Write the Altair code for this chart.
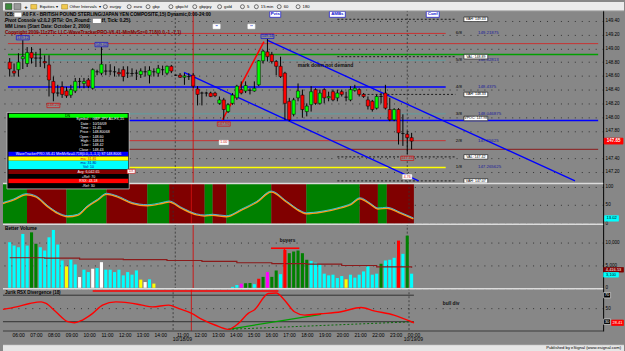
import altair as alt
import pandas as pd

FONT = "Liberation Sans"
BG = "#878787"

# ---------------- 15-minute GBP/JPY bars ----------------
opens = [148.80,148.67,148.69,148.85,148.78,148.94,148.86,148.86,148.81,148.76,
         148.52,148.35,148.44,148.38,148.32,148.38,148.52,148.49,148.54,148.42,
         148.66,148.64,148.67,148.67,148.66,148.65,148.69,148.64,148.635,148.64,
         148.62,148.66,148.61,148.66,148.64,148.69,148.64,148.74,148.61,148.61,
         148.58,148.59,148.61,148.41,148.35,148.35,148.35,148.35,148.20,148.25,
         148.08,148.20,148.28,148.40,148.38,148.39,148.38,148.47,148.82,148.95,
         148.91,148.81,148.74,148.64,148.23,148.04,148.28,148.32,148.08,148.18,
         148.40,148.20,148.40,148.28,148.37,148.28,148.37,148.29,148.25,148.39,
         148.40,148.33,148.25,148.23,148.13,148.30,148.35,148.11,147.96,148.11,
         147.76,147.75,147.70]
highs = [148.86,148.78,148.93,149.12,149.02,149.02,148.95,149.00,148.90,148.90,
         148.59,148.47,148.52,148.44,148.47,148.57,148.57,148.57,148.57,148.71,
         148.69,149.02,148.77,148.77,148.74,148.71,148.74,148.74,148.71,148.69,
         148.71,148.74,148.74,148.71,148.76,148.75,148.75,148.76,148.62,148.64,
         148.64,148.64,148.64,148.45,148.37,148.37,148.37,148.37,148.30,148.28,
         148.20,148.35,148.47,148.52,148.52,148.42,148.52,148.83,148.98,149.14,
         148.95,148.83,148.88,148.66,148.28,148.28,148.49,148.40,148.20,148.45,
         148.42,148.40,148.42,148.37,148.40,148.40,148.40,148.37,148.45,148.47,
         148.42,148.35,148.30,148.25,148.33,148.35,148.47,148.28,148.13,148.13,
         148.04,147.80,147.77]
lows = [148.59,148.59,148.59,148.70,148.73,148.78,148.73,148.73,148.71,148.30,
        148.23,148.30,148.28,148.28,148.28,148.35,148.42,148.42,148.42,148.40,
        148.61,148.61,148.61,148.61,148.59,148.59,148.52,148.57,148.59,148.54,
        148.57,148.59,148.49,148.59,148.59,148.61,148.61,148.64,148.60,148.57,
        148.47,148.54,148.42,148.17,148.17,148.30,148.29,148.29,148.18,147.96,
        148.06,148.18,148.25,148.33,148.35,148.33,148.37,148.45,148.78,148.81,
        148.78,148.61,148.57,147.96,147.94,148.01,148.23,147.99,148.01,148.08,
        148.18,148.18,148.20,148.23,148.23,148.23,148.30,148.23,148.23,148.37,
        148.30,148.28,148.11,148.08,148.11,148.20,148.11,147.94,147.94,147.60,
        147.58,147.46,147.53]
closes = [148.70,148.64,148.80,148.88,148.94,148.86,148.86,148.86,148.79,148.54,
          148.35,148.35,148.33,148.31,148.40,148.52,148.52,148.52,148.45,148.69,
          148.66,148.77,148.67,148.67,148.66,148.63,148.59,148.64,148.635,148.64,
          148.67,148.66,148.68,148.66,148.71,148.69,148.74,148.67,148.61,148.58,
          148.60,148.59,148.45,148.33,148.35,148.35,148.30,148.31,148.25,148.11,
          148.18,148.32,148.45,148.35,148.46,148.39,148.42,148.82,148.96,148.88,
          148.81,148.74,148.59,148.20,147.96,148.25,148.38,148.11,148.16,148.37,
          148.20,148.35,148.28,148.30,148.25,148.35,148.33,148.29,148.40,148.42,
          148.33,148.30,148.16,148.11,148.30,148.30,148.13,147.96,148.11,147.77,
          147.76,147.70,147.65]

# ---------------- Better Volume ----------------
volume = [10000,9280,8910,11830,9280,12180,9650,8910,8190,11090,
          12710,9500,6000,4690,6160,5130,2360,3970,3450,4190,
          4320,5630,3970,3970,3450,3970,2730,3450,2880,3820,
          1790,1260,1860,920] + [None] * 17 + [
          200,600,900,1000,1050,800,2000,2400,3450,2400,
          3800,3000,8300,7600,7970,8190,7600,6160,5900,5500,
          5130,3100,2730,2880,2140,2580,1860,2880,2230,2880,
          3600,4690,2880,3100,5280,6000,6160,6590,10370,7460,
          11460,3100]
volume_kind = ("cccccggccc" "cccyccwccw" "cwcccccccc" "ywcy" "-----------------"
               "ccmggcrgmg" "gcrgggggcc" "ccccccyccc" "ccccgcccrc" "gc")
vol_avg_idx = [0, 8, 16, 26, 36, 44, 52, 60, 68, 76, 84, 92]
vol_avg = [6600, 6500, 6300, 6200, 6000, 5800, 5500, 5300, 5200, 4900, 4600, 4400]

# ---------------- oscillator ----------------
osc_idx = [-0.4, 1.9, 4.8, 7.0, 9.7, 11.9, 14.2, 16.4, 18.6, 20.9,
           22.9, 25.3, 28.7, 32.1, 35.4, 37.0, 39.9, 43.2, 45.0, 46.8,
           49.9, 53.3, 56.7, 60.0, 63.4, 66.7, 67.9, 71.2, 75.7, 77.9,
           79.9, 82.4, 84.0, 86.0, 89.1, 92.0]
osc_val = [55, 64, 79, 73, 46, 28, 19, 23, 46, 64,
           80, 73, 55, 49, 55, 59, 41, 24, 21, 23,
           19, 37, 58, 86, 59, 32, 27, 31, 43, 52,
           68, 52, 40, 42, 28, 13]
osc_band_edges = [-0.4, 5.0, 13.9, 22.9, 32.1, 37.0, 45.0, 46.8, 49.9, 60.0, 67.9, 79.9, 84.0, 86.0, 92.1]

# ---------------- Jurik RSX ----------------
rsx_idx = [-0.4, 2.6, 5.6, 8.2, 9.3, 11.5, 14.2, 15.7, 17.5, 19.8,
           22.0, 25.0, 28.0, 30.9, 33.2, 36.9, 39.1, 42.1, 44.4, 47.3,
           50.3, 52.6, 54.8, 56.3, 59.3, 61.1, 63.0, 65.2, 67.5, 71.2,
           75.7, 80.2, 83.1, 87.6, 92.1]
rsx_val = [48.5, 52.4, 57.5, 60, 57.5, 45, 30, 28.4, 32.5, 42.5,
           55, 60, 58.4, 55, 52.4, 55, 50, 42.5, 33.5, 25,
           18.5, 27.5, 42.5, 48.5, 72.5, 73.4, 62.5, 45, 40, 42,
           45, 51.5, 46.4, 40, 28.4]

# ---------------- axes / annotations ----------------
price_ticks = [147.2, 147.4, 147.8, 148.0, 148.2, 148.4, 148.6, 148.8, 149.0, 149.2, 149.4]
hour_ticks = [3, 7, 11, 15, 19, 23, 27, 31, 35, 40, 44, 48, 52, 56, 60, 64, 68, 72, 76, 80, 84, 88, 92]
hour_labels = ["06:00", "07:00", "08:00", "09:00", "10:00", "11:00", "12:00", "13:00", "14:00",
               "11:00", "12:00", "13:00", "14:00", "15:00", "16:00", "17:00", "18:00", "19:00",
               "20:00", "21:00", "22:00", "23:00", "00:00"]
date_idx = [40, 92]
date_labels = ["10/18/09", "10/19/09"]
break_idx = [37.9, 91.0]
cursor_idx = 42.0

mm_names = ["6/8", "5/8", "4/8", "3/8", "2/8", "1/8"]
mm_levels = [149.21875, 148.828125, 148.4375, 148.046875, 147.65625, 147.265625]
mm_text = ["149.21875", "148.82813", "148.4375", "148.046875", "147.65625", "147.265625"]
full_levels = [149.07, 148.91, 147.95, 147.53]
va_levels = [149.425, 148.88, 148.33, 147.98, 147.42, 147.07]
va_text = ["VAH: 149.43", "VAL: 148.89", "VAH: 148.33", "VPOC: 147.98", "VAL: 147.42", "VAH: 147.07"]
va_dot_start = [75, 75, 81, 75, 75, 75]
pivot_hi_idx = [3, 21, 59]
pivot_hi = [149.12, 149.02, 149.14]
pivot_lo_idx = [10, 49, 91]
pivot_lo = [148.23, 147.96, 147.46]
chan_upper = [(58.9, 149.12), (129.4, 147.07)]
chan_lower = [(39.9, 148.65), (93.6, 147.07)]
ab_leg = [(48.7, 147.96), (58.2, 149.10)]

# ---------------- geometry ----------------
N = len(opens)
W = 604
PXB = 4.4707
X0 = -0.4
XEND = X0 + W / PXB
XS = alt.Scale(domain=[X0, XEND], nice=False, zero=False)
H_MAIN, H_OSC, H_VOL, H_RSX = 182, 41, 65, 43
YS_MAIN = alt.Scale(domain=[147.04, 149.675], nice=False, zero=False)
YS_OSC = alt.Scale(domain=[-1.35, 109.46], nice=False, zero=False)
YS_VOL = alt.Scale(domain=[-109, 14083], nice=False, zero=False)
YS_RSX = alt.Scale(domain=[15.97, 80.43], nice=False, zero=False)
ONE = pd.DataFrame({"k": [0]})
FS = 4.6


def yaxis(values, fmt=None):
    kw = dict(orient="right", values=values, ticks=False, domain=True, domainColor="black",
              domainWidth=1, grid=True, gridColor="#1e1e1e", gridDash=[1, 6], gridWidth=0.8,
              labelFontSize=FS, labelColor="black", labelFont=FONT, labelPadding=2,
              title=None, labelOverlap=False, labelFlush=False)
    if fmt:
        kw["format"] = fmt
    return alt.Axis(**kw)


lab = [""] * (N + 1)
for t, s in zip(hour_ticks, hour_labels):
    lab[t] = s
XEXPR = "[" + ",".join("'" + s + "'" for s in lab) + "][round(datum.value)]"
XAXIS = alt.Axis(values=hour_ticks, labelExpr=XEXPR, orient="bottom", ticks=False, domain=False,
                 grid=False, labelAlign="center", labelBaseline="top", labelPadding=1.5, labelFontSize=5,
                 labelColor="black", labelFont=FONT, labelOverlap=False, labelFlush=False, title=None)

# the same axis object is used by every layer of a panel so the layer merge keeps it
YAX = {"main": yaxis(price_ticks, ".2f"), "osc": yaxis([0, 50, 100]),
       "vol": yaxis([0, 5000, 10000], ",d"), "rsx": yaxis([50])}
YSC = {"main": YS_MAIN, "osc": YS_OSC, "vol": YS_VOL, "rsx": YS_RSX}
XAX = {"main": None, "osc": None, "vol": None, "rsx": XAXIS}


def xq(pn, f="i"):
    return alt.X(f"{f}:Q", scale=XS, axis=XAX[pn])


def yq(pn, f):
    return alt.Y(f"{f}:Q", scale=YSC[pn], axis=YAX[pn])


def ptext(x, y, s, size=FS, color="black", bold=False, align="left", baseline="middle"):
    return alt.Chart(ONE).mark_text(text=s, fontSize=size, color=color, font=FONT,
                                    fontWeight="bold" if bold else "normal",
                                    align=align, baseline=baseline).encode(
        x=alt.value(x), y=alt.value(y))


def prect(x, y, x2, y2, fill, stroke=None, sw=0.8):
    kw = dict(fill=fill)
    if stroke:
        kw.update(stroke=stroke, strokeWidth=sw)
    return alt.Chart(ONE).mark_rect(**kw).encode(
        x=alt.value(x), y=alt.value(y), x2=alt.value(x2), y2=alt.value(y2))


def prule(x, y, x2, y2, color, w=1, dash=None):
    kw = dict(color=color, strokeWidth=w)
    if dash:
        kw["strokeDash"] = dash
    return alt.Chart(ONE).mark_rule(**kw).encode(
        x=alt.value(x), y=alt.value(y), x2=alt.value(x2), y2=alt.value(y2))


def boxes(df, x, y, w, h, fill, stroke, tcol, fs=4.2, bold=False, yoff=0):
    a = h / w
    shp = f"M-1,{-a:.4f}L1,{-a:.4f}L1,{a:.4f}L-1,{a:.4f}Z"
    b = alt.Chart(df).mark_point(shape=shp, size=w * w, filled=True, fill=fill,
                                 stroke=stroke or fill, strokeWidth=0.7, opacity=1,
                                 yOffset=yoff).encode(x=x, y=y)
    t = alt.Chart(df).mark_text(fontSize=fs, color=tcol, font=FONT,
                                fontWeight="bold" if bold else "normal",
                                yOffset=yoff).encode(x=x, y=y, text="t:N")
    return [b, t]


def vlines(pn, h):
    out = []
    bdf = pd.DataFrame({"i": break_idx})
    out.append(alt.Chart(bdf).mark_rule(color="#333333", strokeWidth=0.8, strokeDash=[2, 2]).encode(
        x=xq(pn), y=alt.value(0), y2=alt.value(h)))
    cdf_ = pd.DataFrame({"i": [cursor_idx]})
    out.append(alt.Chart(cdf_).mark_rule(color="#d01010", strokeWidth=0.9).encode(
        x=xq(pn), y=alt.value(0), y2=alt.value(h)))
    return out


def hseg(pn, p, a, b, color, w=1, dash=None):
    df = pd.DataFrame({"p": [p], "a": [a], "b": [b]})
    kw = dict(color=color, strokeWidth=w)
    if dash:
        kw["strokeDash"] = dash
    return alt.Chart(df).mark_rule(**kw).encode(x=xq(pn, "a"), x2="b:Q", y=yq(pn, "p"))


def seg(pn, pts, color, w=1.4, dash=None):
    df = pd.DataFrame({"a": [pts[0][0]], "p": [pts[0][1]], "b": [pts[1][0]], "q": [pts[1][1]]})
    kw = dict(color=color, strokeWidth=w)
    if dash:
        kw["strokeDash"] = dash
    return alt.Chart(df).mark_rule(**kw).encode(x=xq(pn, "a"), x2="b:Q", y=yq(pn, "p"), y2="q:Q")


MM_END = 99.8

# ================= main price panel =================
P = "main"
L = []
mm_colors = ["#c83232", "#5f9ea0", "#0000ff", "#5f9ea0", "#c83232", "#ffff00"]
mm_w = [1, 1, 1.6, 1, 1, 1.6]
for lv, c, w in zip(mm_levels, mm_colors, mm_w):
    L.append(hseg(P, lv, X0, MM_END, c, w))
for lv, c, w in zip(full_levels, ["#c83232", "#00a000", "#0000ff", "#8b1a1a"], [1, 1.5, 1.6, 1]):
    L.append(hseg(P, lv, X0, XEND, c, w))
for lv, s0 in zip(va_levels, va_dot_start):
    if lv == 147.98:
        continue
    L.append(hseg(P, lv, s0, 102.0, "#111111", 0.9, [2, 2]))
L += vlines(P, H_MAIN)
L.append(seg(P, chan_upper, "#0000ff", 1.3))
L.append(seg(P, chan_lower, "#0000ff", 1.3))
L.append(seg(P, ab_leg, "#ff0000", 1.6))

cdf = pd.DataFrame({"i": range(N), "o": opens, "h": highs, "l": lows, "c": closes})
cdf["lo"] = cdf[["o", "c"]].min(axis=1)
cdf["hi"] = cdf[["o", "c"]].max(axis=1)
cdf["fill"] = ["#00ff00" if c - o > 0.012 else ("#ff0000" if o - c > 0.012 else "#000000")
               for o, c in zip(opens, closes)]
L.append(alt.Chart(cdf).mark_rule(color="black", strokeWidth=1).encode(
    x=xq(P), y=yq(P, "l"), y2="h:Q"))
L.append(alt.Chart(cdf).mark_bar(width=3.3, stroke="black", strokeWidth=0.5).encode(
    x=xq(P), y=yq(P, "lo"), y2="hi:Q", fill=alt.Fill("fill:N", scale=None)))

mmdf = pd.DataFrame({"i": [102.1] * 6, "p": mm_levels, "n": mm_names, "t": mm_text, "j": [107.2] * 6})
L.append(alt.Chart(mmdf).mark_text(fontSize=4.4, color="black", font=FONT, align="left").encode(
    x=xq(P), y=yq(P, "p"), text="n:N"))
L.append(alt.Chart(mmdf).mark_text(fontSize=4.4, color="#1c1c9c", font=FONT, align="left").encode(
    x=xq(P, "j"), y=yq(P, "p"), text="t:N"))
vadf = pd.DataFrame({"i": [106.7] * 6, "p": va_levels, "t": va_text})
L += boxes(vadf, xq(P), yq(P, "p"), 24, 4.6, "#ffffff", "#222222", "#000000", 3.6)
phdf = pd.DataFrame({"i": pivot_hi_idx, "p": pivot_hi, "t": [f"{v:.2f}" for v in pivot_hi]})
L += boxes(phdf, xq(P), yq(P, "p"), 13, 4.4, "#8a8a8a", "#1010d0", "#1010d0", 3.8, yoff=-2.5)
pldf = pd.DataFrame({"i": pivot_lo_idx, "p": pivot_lo, "t": [f"{v:.2f}" for v in pivot_lo]})
L += boxes(pldf, xq(P), yq(P, "p"), 13, 4.4, "#8a8a8a", "#d01010", "#d01010", 3.8, yoff=4.2)
wdf = pd.DataFrame({"i": [49, 91], "p": [147.63, 147.13], "t": ["1.00", "4.76"]})
L += boxes(wdf, xq(P), yq(P, "p"), 9, 4.2, "#ffffff", "#ffffff", "#d01010", 3.6)
L.append(alt.Chart(pd.DataFrame({"i": [72.3], "p": [148.76]})).mark_text(
    text="mark down not demand", fontSize=5, font=FONT, fontWeight="bold", color="#111111").encode(
    x=xq(P), y=yq(P, "p")))
L += boxes(pd.DataFrame({"p": [147.65], "t": ["147.65"]}), alt.value(614.5), yq(P, "p"),
           19, 6, "#ff0000", "#ff0000", "#ffffff", 4.5, bold=True)
# header lines
L.append(ptext(2, 12.8, "ICB:", 4.7, bold=True))
L.append(prect(11.5, 10.6, 18.5, 14.8, "#ffffff"))
L.append(ptext(19.5, 12.8, "A0 FX - BRITISH POUND STERLING/JAPAN YEN COMPOSITE,15) Dynamic,0:00-24:00", 4.7, bold=True))
L.append(ptext(2, 19, "Pivot Console v2.0.2 (RTH: On, Round:", 4.7, bold=True))
L.append(prect(90.5, 16.8, 98.5, 21, "#ffffff"))
L.append(ptext(99.5, 19, "ff, Tick: 0.25)", 4.7, bold=True))
L.append(ptext(2, 25.2, "MM Lines (Start Date: October 2, 2009)", 4.7, bold=True))
L.append(ptext(2, 30.8, "Copyright 2009-11z2Tic LLC-WaveTrackerPRO-V6.41-MinMvSz=0.718(0.0,-1,-1,1)", 4.7,
               color="#7a0000", bold=True))
for xc, s, w in [(274, "Pvts", 11), (336.5, "AMBs", 16), (432.5, "Conf", 13)]:
    L += boxes(pd.DataFrame({"t": [s]}), alt.value(xc), alt.value(12.3), w, 6, "#ffffff", "#1010d0",
               "#1010d0", 4.4, bold=True)
for xc in (215, 250):
    L += boxes(pd.DataFrame({"t": ["▪▪"]}), alt.value(xc), alt.value(24.5), 7, 4.5, "#ffffff", "#ffffff",
               "#1010d0", 3.5)
# toolbar
L.append(prect(0, 0, 625, 8.6, "#ebebeb"))
L.append(prule(0, 8.8, 625, 8.8, "#a8a8a8", 0.8))
L.append(prect(2.5, 1.5, 9, 7.4, "#3d8a3d", "#202020", 0.5))
L.append(prect(11, 1.5, 18, 7.4, "#9a9a9a", "#404040", 0.5))
L.append(ptext(21.5, 4.6, "+", 6, bold=True))
for fx in (28, 59):
    L.append(prect(fx, 2.4, fx + 6, 7, "#f2c94c", "#9a7a1a", 0.5))
L.append(ptext(37, 4.6, "Equities", 4.2))
L.append(ptext(53.5, 4.6, "▾", 4.2))
L.append(ptext(67, 4.6, "Other Intervals", 4.2))
L.append(ptext(96.5, 4.6, "▾", 4.2))
for cx, s in [(103, "eurjpy"), (127, "euro"), (146, "gbp"), (169, "gbpchf"), (193, "gbpjpy"),
              (218, "gold"), (241, "5"), (255, "15 min"), (278, "60"), (297, "180")]:
    L.append(alt.Chart(ONE).mark_point(shape="circle", filled=False, size=16, color="#202020",
                                       strokeWidth=0.6, opacity=1).encode(x=alt.value(cx), y=alt.value(4.6)))
    L.append(ptext(cx + 4.5, 4.6, s, 4.2))

main = alt.layer(*L).properties(width=W, height=H_MAIN)

# ================= oscillator panel =================
P = "osc"
O = []
bdf = pd.DataFrame({"a": osc_band_edges[:-1], "b": osc_band_edges[1:],
                    "f": ["#008000" if k % 2 == 0 else "#800000" for k in range(len(osc_band_edges) - 1)]})
O.append(alt.Chart(bdf).mark_rect().encode(x=xq(P, "a"), x2="b:Q", y=alt.value(0), y2=alt.value(H_OSC),
                                           fill=alt.Fill("f:N", scale=None)))
O += vlines(P, H_OSC)
odf = pd.DataFrame({"i": osc_idx, "v": osc_val})
O.append(alt.Chart(odf).mark_line(interpolate="monotone", color="#ff9a1a", strokeWidth=1.5, yOffset=0.5).encode(
    x=xq(P), y=yq(P, "v")))
O.append(alt.Chart(odf).mark_line(interpolate="monotone", color="#40d0ff", strokeWidth=0.8, yOffset=-0.5).encode(
    x=xq(P), y=yq(P, "v")))
O += boxes(pd.DataFrame({"v": [13], "t": ["13.02"]}), alt.value(612.5), yq(P, "v"), 14, 5.5,
           "#00ffff", "#00ffff", "#000000", 4.2)
O.append(prule(0, 0.5, W, 0.5, "#dcdcdc", 1.6))
T = -182
O.append(prect(4, 111 + T, 127, 188 + T, "#000000", "#c8c8c8", 0.8))
O.append(prect(6, 112.3 + T, 125.5, 116.3 + T, "#00ff00"))
O.append(ptext(65, 114.4 + T, "DN", 3.6, align="center"))
rows_l = ["Symbol :", "Date :", "Time :", "Price :", "Open :", "High :", "Low :", "Close :"]
rows_v = ["GBP JPY A0-FX,15", "10/16/09", "11:45", "148.80068", "148.60", "148.63", "148.42", "148.43"]
for k, (a, b) in enumerate(zip(rows_l, rows_v)):
    yy = 118 + 4.35 * k + T
    O.append(ptext(88, yy, a, 3.7, color="#ffffff", align="right"))
    O.append(ptext(90, yy, b, 3.7, color="#ffffff"))
bands = [(150.6, 155, "#0000ff", "WaveTrackerPRO-V6.41 MinMvSz=0.718(0.0,-1,-1,1) ST:148.8006", "#ffffff"),
         (155.4, 159.7, "#ffff00", "ma: 31.81", "#d01010"),
         (159.7, 164.0, "#00ffff", "ma: 31.80", "#0000a0"),
         (164.0, 168.3, "#00ffff", "Vol: 10", "#0000a0"),
         (168.8, 173.1, "#800000", "Avg: 6,042.65", "#ffffff"),
         (173.5, 177.7, "#000000", "+Ref: 70", "#ffffff"),
         (177.8, 182.2, "#ff0000", "RSX: 43.18", "#ffffff"),
         (182.6, 186.8, "#000000", "-Ref: 30", "#ffffff")]
for y0, y1, f, s, tc in bands:
    O.append(prect(5.5, y0 + T, 126, y1 + T, f))
    O.append(ptext(86 if len(s) < 20 else 66, (y0 + y1) / 2 + T, s, 3.6, color=tc, align="center"))
O.append(prect(125, 168.2 + T, 133, 172.4 + T, "#ffffff", "#d01010", 0.6))
O.append(ptext(129, 170.3 + T, "DX", 3.3, color="#d01010", align="center"))

osc = alt.layer(*O).properties(width=W, height=H_OSC)

# ================= volume panel =================
P = "vol"
V = []
kind_color = {"c": "#00ffff", "g": "#008000", "y": "#ffff00", "w": "#ffffff", "m": "#ff00ff", "r": "#ff0000"}
vrows = [(i, v, kind_color[k]) for i, (v, k) in enumerate(zip(volume, volume_kind)) if v is not None]
vdf = pd.DataFrame(vrows, columns=["i", "v", "f"])
V += vlines(P, H_VOL)
V.append(alt.Chart(vdf).mark_bar(width=3.1).encode(
    x=xq(P), y=yq(P, "v"), fill=alt.Fill("f:N", scale=None)))
adf = pd.DataFrame({"i": vol_avg_idx, "v": vol_avg})
V.append(alt.Chart(adf).mark_line(interpolate="step-after", color="#8b1a1a", strokeWidth=1.2).encode(
    x=xq(P), y=yq(P, "v")))
V.append(hseg(P, 8690, 59.8, 66.3, "#ff0000", 1.6))
V.append(alt.Chart(pd.DataFrame({"i": [62.9], "a": [0], "b": [8690]})).mark_rule(
    color="#ff0000", strokeWidth=1.4).encode(x=xq(P), y=yq(P, "a"), y2="b:Q"))
V.append(alt.Chart(pd.DataFrame({"i": [63.6], "v": [10260]})).mark_text(
    text="buyers", fontSize=4.8, font=FONT, fontWeight="bold", color="#111111").encode(
    x=xq(P), y=yq(P, "v")))
V.append(ptext(2, 5.6, "Better Volume", 4.8, bold=True))
V += boxes(pd.DataFrame({"v": [3950], "t": ["4,416.53"]}), alt.value(614.5), yq(P, "v"), 20, 4.6,
           "#800000", "#800000", "#ffffff", 4.0)
V += boxes(pd.DataFrame({"v": [2850], "t": ["3,100"]}), alt.value(612), yq(P, "v"), 15, 4.6,
           "#00ffff", "#00ffff", "#000000", 4.0)
V.append(prule(0, 0.5, W, 0.5, "#dcdcdc", 1.6))

vol = alt.layer(*V).properties(width=W, height=H_VOL)

# ================= RSX panel =================
P = "rsx"
R = []
R += vlines(P, H_RSX)
R.append(hseg(P, 70, X0, 92.1, "#303030", 1))
R.append(hseg(P, 30, X0, 92.1, "#303030", 1))
R.append(hseg(P, 76.4, 19.8, 61.6, "#ff0000", 1.4))
R.append(seg(P, [(50.3, 18.5), (71.2, 41.0)], "#00a000", 1.2))
R.append(seg(P, [(50.3, 18.5), (92.1, 30.0)], "#0a6a0a", 1.0, [2, 2]))
rdf = pd.DataFrame({"i": rsx_idx, "v": rsx_val})
R.append(alt.Chart(rdf).mark_line(interpolate="monotone", color="#ff0000", strokeWidth=1.4).encode(
    x=xq(P), y=yq(P, "v")))
R.append(ptext(2, 4.6, "Jurik RSX Divergence (18)", 4.5, bold=True))
R.append(alt.Chart(pd.DataFrame({"i": [98.6], "v": [56]})).mark_text(
    text="bull div", fontSize=4.8, font=FONT, fontWeight="bold", color="#111111", align="left").encode(
    x=xq(P), y=yq(P, "v")))
R += boxes(pd.DataFrame({"v": [70], "t": ["70"]}), alt.value(608), yq(P, "v"), 7, 5.5,
           "#000000", "#dddddd", "#ffffff", 4.2)
R += boxes(pd.DataFrame({"v": [30], "t": ["30"]}), alt.value(608), yq(P, "v"), 7, 5.5,
           "#000000", "#dddddd", "#ffffff", 4.2)
R += boxes(pd.DataFrame({"v": [28.4], "t": ["28.41"]}), alt.value(618.5), yq(P, "v"), 12, 5.5,
           "#ff0000", "#ff0000", "#ffffff", 4.0)
ddf = pd.DataFrame({"i": date_idx, "t": date_labels})
R.append(alt.Chart(ddf).mark_text(fontSize=5, font=FONT, color="black", align="center", baseline="top").encode(
    x=xq(P), y=alt.value(49.5), text="t:N"))
R.append(prule(0, 0.5, W, 0.5, "#dcdcdc", 1.6))
R.append(prule(0, H_RSX, W, H_RSX, "#3a3a3a", 1))
R.append(prect(0, 57, 625, 63, "#e6e6e6"))
R.append(prule(0, 57, 625, 57, "#b8b8b8", 0.6))
R.append(ptext(622, 60.2, "Published by eSignal (www.esignal.com)", 4.2, align="right"))

rsx = alt.layer(*R).properties(width=W, height=H_RSX)

chart = alt.vconcat(main, osc, vol, rsx, spacing=0).properties(
    background=BG, padding=0, bounds="flush"
).configure_view(stroke=None)

chart.save("out.html", embed_options={"renderer": "svg", "actions": False})
